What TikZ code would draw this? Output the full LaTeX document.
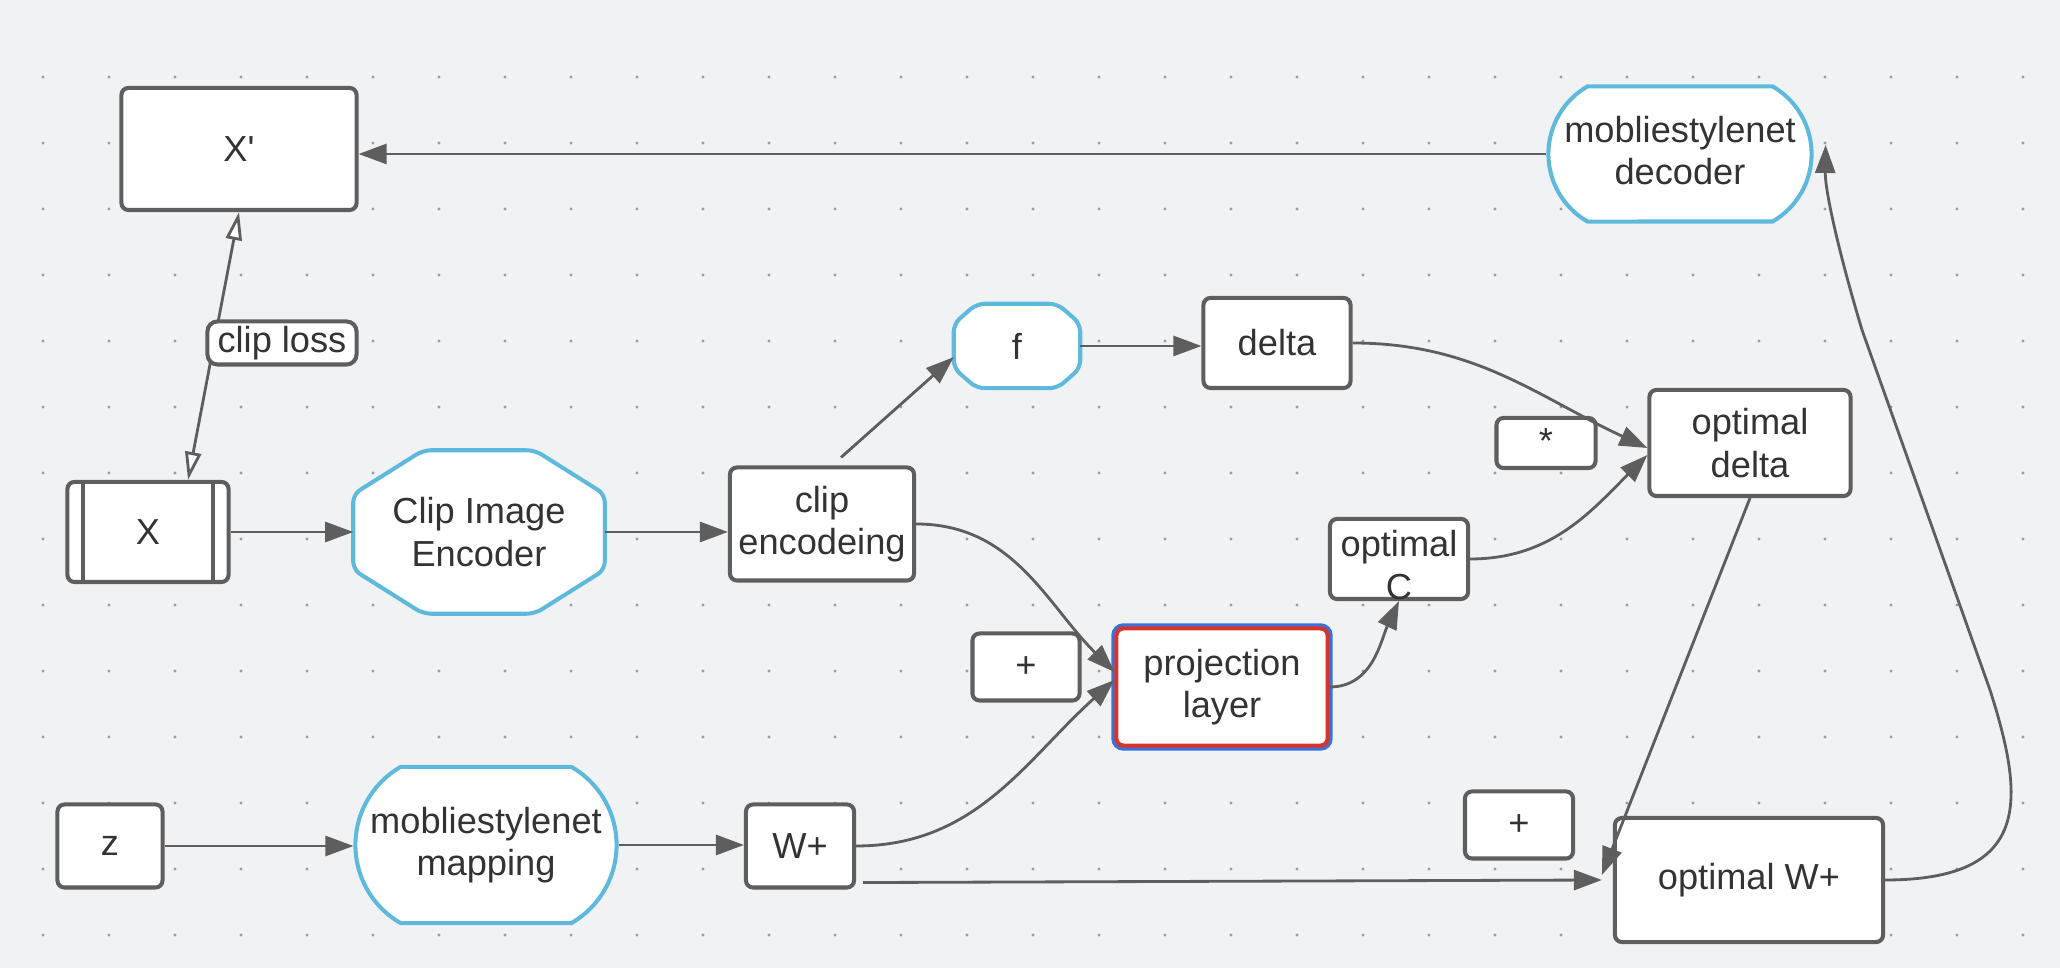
\documentclass[tikz,border=0pt]{standalone}
\usepackage{fontspec}
\setmainfont{Liberation Sans}
\usetikzlibrary{arrows.meta, shapes.misc, calc, backgrounds}

\definecolor{bggray}{HTML}{F1F2F4}
\definecolor{dotgray}{HTML}{979BA3}
\definecolor{linegray}{HTML}{5E5E5E}
\definecolor{txtgray}{HTML}{333333}
\definecolor{encblue}{HTML}{5EB9DD}
\definecolor{projblue}{HTML}{3A72DB}
\definecolor{projred}{HTML}{D7352B}

\tikzset{
    box/.style={draw=linegray, line width=1.15pt, fill=white, rounded corners=0.07cm,
        text=txtgray, align=center, inner sep=0pt},
    octbox/.style={rectangle, text=txtgray, align=center, inner sep=0pt},
    octline/.style={draw=encblue, line width=1.15pt, fill=white, rounded corners=0.08cm},
    termbox/.style={rounded rectangle, rounded rectangle arc length=120, draw=encblue,
        line width=1.15pt, fill=white, text=txtgray, align=center, inner sep=0pt},
    projbox/.style={box, draw=projred, preaction={draw=projblue, line width=2.9pt}},
    link/.style={draw=linegray, line width=0.8pt},
    opentip/.style={{Triangle[fill=white, length=0.28cm, width=0.16cm]}-{Triangle[fill=white, length=0.28cm, width=0.16cm]}}
}

% octagon behind a node: node, corner cut in x, corner cut in y
\newcommand{\octback}[3]{%
    \draw[octline] ($(#1.north west)+(#2,0)$) -- ($(#1.north east)+(-#2,0)$)
        -- ($(#1.north east)+(0,#3)$) -- ($(#1.south east)+(0,-#3)$)
        -- ($(#1.south east)+(-#2,0)$) -- ($(#1.south west)+(#2,0)$)
        -- ($(#1.south west)+(0,-#3)$) -- ($(#1.north west)+(0,#3)$) -- cycle;}

\begin{document}
\begin{tikzpicture}[x=0.01cm, y=-0.01cm, >={Triangle[length=0.28cm, width=0.2cm]},
    font=\fontsize{10.3}{12}\selectfont]
    % page and dot grid
    \begin{scope}[on background layer]
        \fill[bggray] (0,0) rectangle (2060,968);
        \foreach \i in {0,...,30}
            \foreach \j in {0,...,13}
                \fill[dotgray] (43+66*\i, 77+66*\j) circle (0.016cm);
    \end{scope}

    % blocks
    \node[box, minimum width=2.35cm, minimum height=1.22cm] (xp) at (239,149) {X\textquotesingle};
    \node[box, minimum width=1.61cm, minimum height=1.0cm] (x) at (148,532) {X};
    \draw[draw=linegray, line width=1.15pt] ([xshift=0.175cm]x.north west) -- ([xshift=0.175cm]x.south west);
    \draw[draw=linegray, line width=1.15pt] ([xshift=-0.175cm]x.north east) -- ([xshift=-0.175cm]x.south east);
    \node[octbox, minimum width=2.5cm, minimum height=1.62cm] (cie) at (479,532) {Clip Image\\Encoder};
    \node[box, minimum width=1.84cm, minimum height=1.13cm] (ce) at (822,524) {clip\\encodeing};
    \node[octbox, minimum width=1.25cm, minimum height=0.83cm] (f) at (1017,346) {f};
    \node[box, minimum width=1.47cm, minimum height=0.9cm] (delta) at (1277,343) {delta};
    \node[termbox, minimum width=2.63cm, minimum height=1.35cm] (dec) at (1680,154) {mobliestylenet\\decoder\vphantom{g}};
    \node[box, minimum width=2.01cm, minimum height=1.06cm] (od) at (1750,443) {optimal\\delta};
    \node[box, minimum width=0.99cm, minimum height=0.5cm, text depth=0.04cm] (mul) at (1546,443) {*};
    \node[box, minimum width=1.38cm, minimum height=0.8cm,
        label={[align=center, inner sep=0pt, text=txtgray, yshift=-0.06cm]center:optimal\\C}] (oc) at (1399,559) {};
    \node[projbox, minimum width=2.11cm, minimum height=1.17cm] (proj) at (1222,687) {projection\\layer};
    \node[box, minimum width=1.07cm, minimum height=0.67cm] (plusa) at (1026,667) {+};
    \node[box, minimum width=1.05cm, minimum height=0.83cm] (z) at (110,846) {z};
    \node[termbox, minimum width=2.61cm, minimum height=1.56cm] (map) at (486,845) {mobliestylenet\\mapping};
    \node[box, minimum width=1.08cm, minimum height=0.83cm] (wp) at (800,846) {W+};
    \node[box, minimum width=1.08cm, minimum height=0.67cm] (plusb) at (1519,825) {+};
    \node[box, minimum width=2.68cm, minimum height=1.24cm] (owp) at (1749,880) {optimal W+};

    \begin{scope}[on background layer]
        \octback{cie}{70}{44}
        \octback{f}{23}{20}
    \end{scope}

    % clip loss
    \draw[link, opentip] (xp.south) -- ([xshift=0.4cm]x.north);
    \node[box, minimum width=1.49cm, minimum height=0.43cm, rounded corners=0.1cm] (loss) at (282,343) {clip loss};

    % connectors
    \draw[link, ->] (dec.west) -- (dec.west -| xp.east);
    \draw[link, ->] (x.east) -- (cie.west);
    \draw[link, ->] (cie.east) -- (cie.east -| ce.west);
    \draw[link, ->] ([xshift=0.19cm, yshift=0.08cm]ce.north) -- (f.190);
    \draw[link, ->] (f.east) -- (f.east -| delta.west);
    \draw[link, ->] (delta.east) to[out=0, in=155] ([yshift=-0.05cm]od.west);
    \draw[link, ->] (oc.east) to[out=0, in=225] ([yshift=-0.12cm]od.west);
    \draw[link, ->] (ce.east) to[out=0, in=135] ([yshift=0.15cm]proj.west);
    \draw[link, ->] (wp.east) to[out=0, in=222] ([yshift=0.07cm]proj.west);
    \draw[link, ->] (proj.east) to[out=0, in=245] (oc.south);
    \draw[link, ->] (z.east) -- (z.east -| map.west);
    \draw[link, ->] (map.east) -- (map.east -| wp.west);
    \draw[link, ->] ([xshift=0.07cm, yshift=0.07cm]wp.south east) -- ([xshift=-0.11cm]owp.west);
    \draw[link, ->] (od.south) -- ([xshift=-0.11cm, yshift=0.05cm]owp.west);
    \draw[link, ->] (owp.east) .. controls +(147,0) and (2025,800) .. (1990,690)
        -- (1862,330) .. controls (1838,250) and (1825,190) .. ([xshift=0.12cm, yshift=0.09cm]dec.east);
\end{tikzpicture}
\end{document}
